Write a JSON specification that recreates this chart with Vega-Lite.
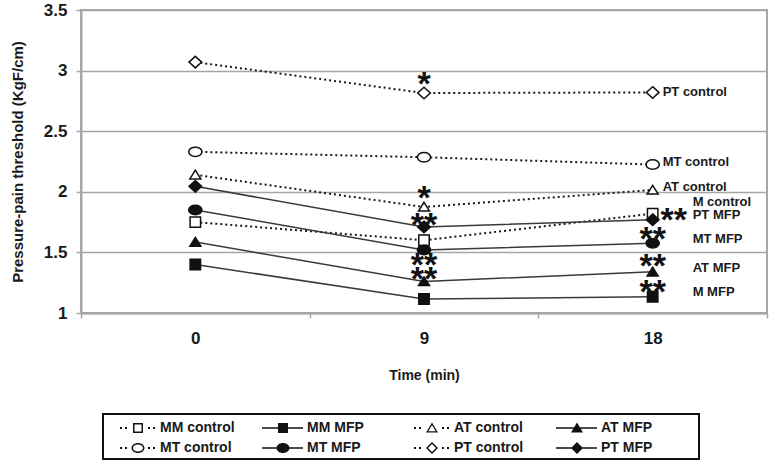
{
  "$schema": "https://vega.github.io/schema/vega-lite/v6.json",
  "width": 686,
  "height": 303,
  "autosize": {"type": "none"},
  "padding": {"left": 81, "top": 10, "right": 4, "bottom": 150},
  "background": "white",
  "config": {
    "font": "Liberation Sans",
    "view": {"stroke": "#a6a6a6", "strokeWidth": 2},
    "axis": {
      "labelFont": "Liberation Sans",
      "titleFont": "Liberation Sans",
      "labelFontWeight": "bold",
      "titleFontWeight": "bold",
      "labelColor": "#1a1a1a",
      "titleColor": "#1a1a1a"
    },
    "legend": {"strokeWidth": 2}
  },
  "datasets": {
    "series": [
      {"series": "MM control", "site": "MM", "condition": "control", "time": 0, "value": 1.75},
      {"series": "MM control", "site": "MM", "condition": "control", "time": 9, "value": 1.6},
      {"series": "MM control", "site": "MM", "condition": "control", "time": 18, "value": 1.82},
      {"series": "MM MFP", "site": "MM", "condition": "MFP", "time": 0, "value": 1.4},
      {"series": "MM MFP", "site": "MM", "condition": "MFP", "time": 9, "value": 1.115},
      {"series": "MM MFP", "site": "MM", "condition": "MFP", "time": 18, "value": 1.134},
      {"series": "AT control", "site": "AT", "condition": "control", "time": 0, "value": 2.14},
      {"series": "AT control", "site": "AT", "condition": "control", "time": 9, "value": 1.875},
      {"series": "AT control", "site": "AT", "condition": "control", "time": 18, "value": 2.015},
      {"series": "AT MFP", "site": "AT", "condition": "MFP", "time": 0, "value": 1.585},
      {"series": "AT MFP", "site": "AT", "condition": "MFP", "time": 9, "value": 1.26},
      {"series": "AT MFP", "site": "AT", "condition": "MFP", "time": 18, "value": 1.34},
      {"series": "MT control", "site": "MT", "condition": "control", "time": 0, "value": 2.33},
      {"series": "MT control", "site": "MT", "condition": "control", "time": 9, "value": 2.285},
      {"series": "MT control", "site": "MT", "condition": "control", "time": 18, "value": 2.225},
      {"series": "MT MFP", "site": "MT", "condition": "MFP", "time": 0, "value": 1.85},
      {"series": "MT MFP", "site": "MT", "condition": "MFP", "time": 9, "value": 1.52},
      {"series": "MT MFP", "site": "MT", "condition": "MFP", "time": 18, "value": 1.575},
      {"series": "PT control", "site": "PT", "condition": "control", "time": 0, "value": 3.07},
      {"series": "PT control", "site": "PT", "condition": "control", "time": 9, "value": 2.815},
      {"series": "PT control", "site": "PT", "condition": "control", "time": 18, "value": 2.82},
      {"series": "PT MFP", "site": "PT", "condition": "MFP", "time": 0, "value": 2.045},
      {"series": "PT MFP", "site": "PT", "condition": "MFP", "time": 9, "value": 1.71},
      {"series": "PT MFP", "site": "PT", "condition": "MFP", "time": 18, "value": 1.77}
    ],
    "labels": [
      {"time": 18, "value": 2.823, "label": "PT control"},
      {"time": 18, "value": 2.246, "label": "MT control"},
      {"time": 18, "value": 2.04, "label": "AT control"},
      {"time": 18, "value": 1.916, "label": "M control"},
      {"time": 18, "value": 1.809, "label": "PT MFP"},
      {"time": 18, "value": 1.611, "label": "MT MFP"},
      {"time": 18, "value": 1.371, "label": "AT MFP"},
      {"time": 18, "value": 1.173, "label": "M MFP"}
    ],
    "stars": [
      {"time": 9, "value": 2.94, "mark": "*"},
      {"time": 9, "value": 1.998, "mark": "*"},
      {"time": 9, "value": 1.776, "mark": "**"},
      {"time": 9, "value": 1.446, "mark": "**"},
      {"time": 9, "value": 1.33, "mark": "**"},
      {"time": 18, "value": 1.66, "mark": "**"},
      {"time": 18, "value": 1.437, "mark": "**"},
      {"time": 18, "value": 1.223, "mark": "**"}
    ],
    "starsBeside": [
      {"time": 18, "value": 1.817, "mark": "**"}
    ]
  },
  "layer": [
    {
      "data": {"name": "series"},
      "transform": [{"filter": "datum.condition === 'control'"}],
      "mark": {"type": "line", "color": "#1a1a1a", "strokeWidth": 2, "strokeDash": [2, 3]},
      "encoding": {
        "x": {
          "field": "time", "type": "ordinal",
          "scale": {"type": "band", "domain": [0, 9, 18], "paddingInner": 0, "paddingOuter": 0},
          "axis": {
            "title": "Time (min)", "titleFontSize": 14, "titlePadding": 22,
            "labelFontSize": 17, "labelAngle": 0, "labelPadding": 12,
            "tickBand": "extent", "tickSize": 5, "tickColor": "#a6a6a6", "tickWidth": 1.5,
            "domainColor": "#a6a6a6", "domainWidth": 2, "grid": false
          }
        },
        "y": {
          "field": "value", "type": "quantitative",
          "scale": {"domain": [1, 3.5], "nice": false, "zero": false},
          "axis": {
            "title": "Pressure-pain threshold (KgF/cm)", "titleFontSize": 15, "titlePadding": 18,
            "values": [1, 1.5, 2, 2.5, 3, 3.5], "format": "~g",
            "labelFontSize": 17, "labelPadding": 9,
            "tickSize": 5, "tickColor": "#a6a6a6", "tickWidth": 1.5,
            "domainColor": "#a6a6a6", "domainWidth": 2,
            "grid": true, "gridColor": "#a6a6a6", "gridWidth": 1.5
          }
        },
        "detail": {"field": "series"}
      }
    },
    {
      "data": {"name": "series"},
      "transform": [{"filter": "datum.condition === 'MFP'"}],
      "mark": {"type": "line", "color": "#3a3a3a", "strokeWidth": 1.5},
      "encoding": {
        "x": {"field": "time", "type": "ordinal"},
        "y": {"field": "value", "type": "quantitative"},
        "detail": {"field": "series"}
      }
    },
    {
      "data": {"name": "series"},
      "transform": [{"filter": "datum.site === 'MM'"}],
      "mark": {"type": "point", "filled": true, "size": 121, "stroke": "#111111", "strokeWidth": 1.5, "opacity": 1, "shape": "M-0.95,-0.95h1.9v1.9h-1.9z"},
      "encoding": {
        "x": {"field": "time", "type": "ordinal"},
        "y": {"field": "value", "type": "quantitative"},
        "fill": {"field": "condition", "type": "nominal", "scale": {"domain": ["control", "MFP"], "range": ["#ffffff", "#111111"]}, "legend": null}
      }
    },
    {
      "data": {"name": "series"},
      "transform": [{"filter": "datum.site === 'AT'"}],
      "mark": {"type": "point", "filled": true, "size": 121, "stroke": "#111111", "strokeWidth": 1.5, "opacity": 1, "shape": "M0,-0.85L1,0.75L-1,0.75z"},
      "encoding": {
        "x": {"field": "time", "type": "ordinal"},
        "y": {"field": "value", "type": "quantitative"},
        "fill": {"field": "condition", "type": "nominal", "legend": null}
      }
    },
    {
      "data": {"name": "series"},
      "transform": [{"filter": "datum.site === 'MT'"}],
      "mark": {"type": "point", "filled": true, "size": 121, "stroke": "#111111", "strokeWidth": 1.5, "opacity": 1, "shape": "M-1.2,0C-1.2,-0.48 -0.66,-0.85 0,-0.85C0.66,-0.85 1.2,-0.48 1.2,0C1.2,0.48 0.66,0.85 0,0.85C-0.66,0.85 -1.2,0.48 -1.2,0z"},
      "encoding": {
        "x": {"field": "time", "type": "ordinal"},
        "y": {"field": "value", "type": "quantitative"},
        "fill": {"field": "condition", "type": "nominal", "legend": null}
      }
    },
    {
      "data": {"name": "series"},
      "transform": [{"filter": "datum.site === 'PT'"}],
      "mark": {"type": "point", "filled": true, "size": 121, "stroke": "#111111", "strokeWidth": 1.5, "opacity": 1, "shape": "M0,-1.05L1.15,0L0,1.05L-1.15,0z"},
      "encoding": {
        "x": {"field": "time", "type": "ordinal"},
        "y": {"field": "value", "type": "quantitative"},
        "fill": {"field": "condition", "type": "nominal", "legend": null}
      }
    },
    {
      "data": {"name": "series"},
      "transform": [{"filter": "datum.time < 0"}],
      "mark": {"type": "point", "filled": true, "color": "#111111", "size": 400, "strokeWidth": 0},
      "encoding": {
        "x": {"field": "time", "type": "ordinal"},
        "y": {"field": "value", "type": "quantitative"},
        "shape": {
          "field": "series", "type": "nominal",
          "scale": {
            "domain": ["MM control", "MM MFP", "AT control", "AT MFP", "MT control", "MT MFP", "PT control", "PT MFP"],
            "range": [
              "M-1,0h0.01M13.6,0h0.01M0.3,-0.1h0.2v0.2h-0.2zM0.8,-0.1h0.2v0.2h-0.2zM3.1,-0.1h0.2v0.2h-0.2zM3.6,-0.1h0.2v0.2h-0.2zM1.6,-0.5h1v1h-1zM1.75,-0.35v0.7h0.7v-0.7z",
              "M-1,0h0.01M13.6,0h0.01M-0.2,-0.08H3.9V0.08H-0.2zM1.4,-0.5h1v1h-1z",
              "M-1,0h0.01M13.6,0h0.01M0.3,-0.1h0.2v0.2h-0.2zM0.8,-0.1h0.2v0.2h-0.2zM3.1,-0.1h0.2v0.2h-0.2zM3.6,-0.1h0.2v0.2h-0.2zM2.1,-0.55L2.7,0.45L1.5,0.45zM2.1,-0.3L1.73,0.32L2.47,0.32z",
              "M-1,0h0.01M13.6,0h0.01M-0.2,-0.08H3.9V0.08H-0.2zM1.9,-0.55L2.5,0.45L1.3,0.45z",
              "M-1,0h0.01M13.6,0h0.01M0.3,-0.1h0.2v0.2h-0.2zM0.8,-0.1h0.2v0.2h-0.2zM3.1,-0.1h0.2v0.2h-0.2zM3.6,-0.1h0.2v0.2h-0.2zM1.45,0C1.45,-0.28 1.74,-0.5 2.1,-0.5C2.46,-0.5 2.75,-0.28 2.75,0C2.75,0.28 2.46,0.5 2.1,0.5C1.74,0.5 1.45,0.28 1.45,0zM1.6,0C1.6,0.2 1.82,0.35 2.1,0.35C2.38,0.35 2.6,0.2 2.6,0C2.6,-0.2 2.38,-0.35 2.1,-0.35C1.82,-0.35 1.6,-0.2 1.6,0z",
              "M-1,0h0.01M13.6,0h0.01M-0.2,-0.08H3.9V0.08H-0.2zM1.25,0C1.25,-0.28 1.54,-0.5 1.9,-0.5C2.26,-0.5 2.55,-0.28 2.55,0C2.55,0.28 2.26,0.5 1.9,0.5C1.54,0.5 1.25,0.28 1.25,0z",
              "M-1,0h0.01M13.6,0h0.01M0.3,-0.1h0.2v0.2h-0.2zM0.8,-0.1h0.2v0.2h-0.2zM3.1,-0.1h0.2v0.2h-0.2zM3.6,-0.1h0.2v0.2h-0.2zM2.1,-0.6L2.7,0L2.1,0.6L1.5,0zM2.1,-0.4L1.7,0L2.1,0.4L2.5,0z",
              "M-1,0h0.01M13.6,0h0.01M-0.2,-0.08H3.9V0.08H-0.2zM1.9,-0.6L2.5,0L1.9,0.6L1.3,0z"
            ]
          },
          "legend": {
            "orient": "none", "legendX": 22, "legendY": 404,
            "columns": 4, "direction": "horizontal", "title": null,
            "strokeColor": "#111111", "padding": 4,
            "gridAlign": "all", "columnPadding": 0, "rowPadding": 3,
            "labelFont": "Liberation Sans", "labelFontWeight": "bold", "labelFontSize": 14,
            "labelColor": "#1a1a1a", "labelOffset": 33,
            "symbolSize": 400, "symbolStrokeWidth": 0,
            "symbolFillColor": "#111111", "symbolOpacity": 1
          }
        }
      }
    },
    {
      "data": {"name": "labels"},
      "transform": [{"filter": {"field": "label", "oneOf": ["PT control", "MT control", "AT control"]}}],
      "mark": {"type": "text", "align": "left", "baseline": "middle", "dx": 10, "font": "Liberation Sans", "fontWeight": "bold", "fontSize": 13, "color": "#1a1a1a"},
      "encoding": {
        "x": {"field": "time", "type": "ordinal"},
        "y": {"field": "value", "type": "quantitative"},
        "text": {"field": "label"}
      }
    },
    {
      "data": {"name": "labels"},
      "transform": [{"filter": {"not": {"field": "label", "oneOf": ["PT control", "MT control", "AT control"]}}}],
      "mark": {"type": "text", "align": "left", "baseline": "middle", "dx": 40, "font": "Liberation Sans", "fontWeight": "bold", "fontSize": 13, "color": "#1a1a1a"},
      "encoding": {
        "x": {"field": "time", "type": "ordinal"},
        "y": {"field": "value", "type": "quantitative"},
        "text": {"field": "label"}
      }
    },
    {
      "data": {"name": "stars"},
      "mark": {"type": "text", "align": "center", "baseline": "alphabetic", "dy": 17, "font": "Liberation Sans", "fontWeight": "bold", "fontSize": 34, "color": "#111111"},
      "encoding": {
        "x": {"field": "time", "type": "ordinal"},
        "y": {"field": "value", "type": "quantitative"},
        "text": {"field": "mark"}
      }
    },
    {
      "data": {"name": "starsBeside"},
      "mark": {"type": "text", "align": "center", "baseline": "alphabetic", "dx": 21, "dy": 17, "font": "Liberation Sans", "fontWeight": "bold", "fontSize": 34, "color": "#111111"},
      "encoding": {
        "x": {"field": "time", "type": "ordinal"},
        "y": {"field": "value", "type": "quantitative"},
        "text": {"field": "mark"}
      }
    }
  ]
}
